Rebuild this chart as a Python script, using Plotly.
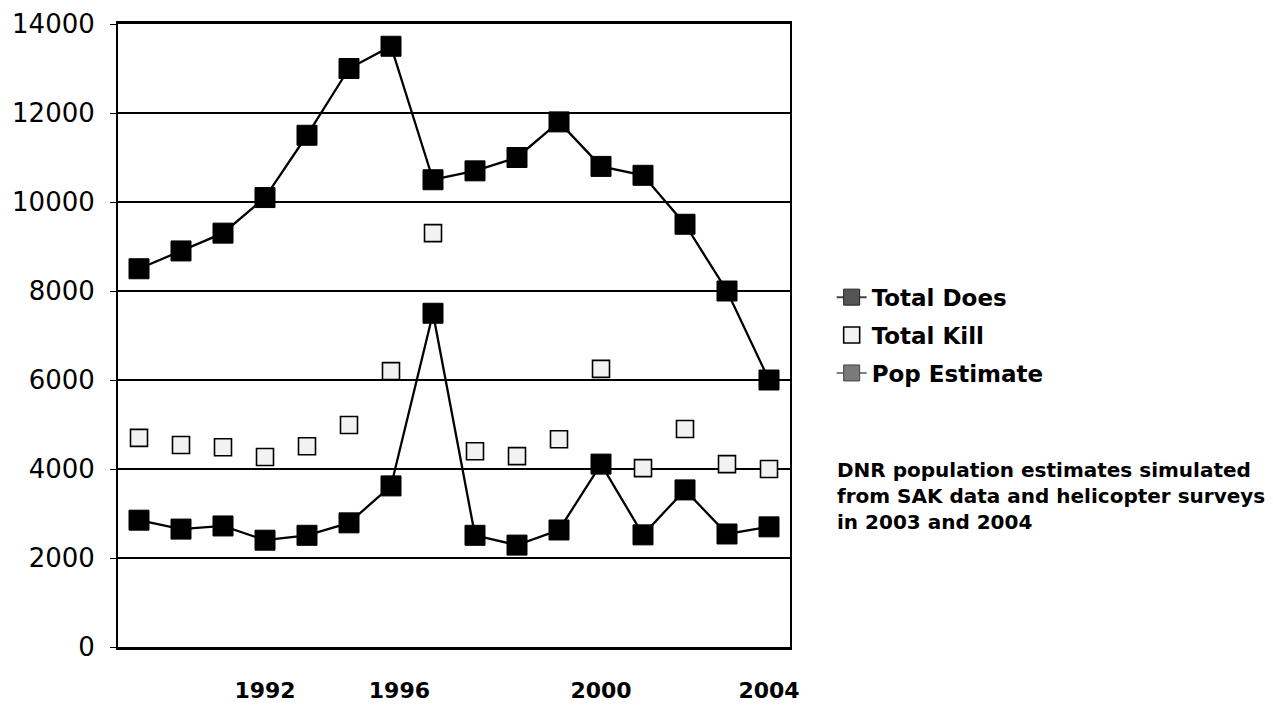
import plotly.graph_objects as go

years = list(range(1989, 2005))
pop_estimate = [8500, 8900, 9300, 10100, 11500, 13000, 13500, 10500,
                10700, 11000, 11800, 10800, 10600, 9500, 8000, 6000]
total_does = [2850, 2650, 2720, 2400, 2510, 2790, 3620, 7500,
              2510, 2290, 2630, 4110, 2520, 3530, 2540, 2700]
total_kill = [4700, 4540, 4490, 4270, 4510, 4990, 6200, 9300,
              4400, 4290, 4670, 6250, 4020, 4900, 4110, 4000]
tick_labels = ["1992", "1996", "2000", "2004"]
tick_positions = [1992, 1995.2, 2000, 2004]
y_ticks = [0, 2000, 4000, 6000, 8000, 10000, 12000, 14000]
y_tick_labels = [str(v) for v in y_ticks]
note = "DNR population estimates simulated<br>from SAK data and helicopter surveys<br>in 2003 and 2004"

fig = go.Figure()

sq = dict(symbol="square", size=20, color="black", line=dict(color="black", width=1))
fig.add_trace(go.Scatter(x=years, y=pop_estimate, mode="lines+markers",
                         line=dict(color="black", width=2.3), marker=sq,
                         showlegend=False))
fig.add_trace(go.Scatter(x=years, y=total_does, mode="lines+markers",
                         line=dict(color="black", width=2.3), marker=sq,
                         showlegend=False))
fig.add_trace(go.Scatter(x=years, y=total_kill, mode="markers",
                         marker=dict(symbol="square", size=17, color="#f2f2f2",
                                     line=dict(color="black", width=1.6)),
                         showlegend=False))

# legend entries
fig.add_trace(go.Scatter(x=[None], y=[None], mode="lines+markers", name="Total Does",
                         legendgroup="a",
                         line=dict(color="#444444", width=2),
                         marker=dict(symbol="square", size=18, color="#555555",
                                     line=dict(color="#222222", width=1))))
fig.add_trace(go.Scatter(x=[None], y=[None], mode="markers", name="Total Kill",
                         legendgroup="b",
                         marker=dict(symbol="square", size=16, color="#f2f2f2",
                                     line=dict(color="black", width=1.6))))
fig.add_trace(go.Scatter(x=[None], y=[None], mode="lines+markers", name="Pop Estimate",
                         legendgroup="c",
                         line=dict(color="#555555", width=1.5),
                         marker=dict(symbol="square", size=18, color="#7a7a7a",
                                     line=dict(color="#444444", width=1))))

fig.update_layout(
    width=1273, height=717,
    margin=dict(l=110, r=491, t=16, b=78),
    paper_bgcolor="white", plot_bgcolor="white",
    font=dict(family="DejaVu Sans", color="black"),
    legend=dict(x=1.062, y=0.596, xanchor="left", yanchor="top",
                font=dict(family="DejaVu Sans", size=23, color="black", weight="bold"),
                bgcolor="rgba(0,0,0,0)", itemwidth=30, tracegroupgap=5),
    xaxis=dict(range=[1988.5, 2004.5], tickvals=tick_positions, ticktext=tick_labels,
               showgrid=False, zeroline=False, showline=True, linecolor="black",
               linewidth=2.5, mirror=True, ticks="", automargin=False,
               ticklabeloverflow="allow",
               tickfont=dict(family="DejaVu Sans", size=22, color="black", weight="bold"),
               ticklabelstandoff=22),
    yaxis=dict(range=[0, 14000], tickvals=y_ticks, ticktext=y_tick_labels,
               showgrid=True, gridcolor="black", automargin=False,
               ticklabeloverflow="allow",
               gridwidth=1.5, zeroline=False, showline=True, linecolor="black",
               linewidth=2, mirror=True, ticks="outside", ticklen=6, tickcolor="black",
               tickfont=dict(family="DejaVu Sans", size=26, color="black"),
               ticklabelstandoff=10),
    annotations=[dict(text=note, xref="paper", yref="paper", x=1.067, y=0.307,
                      xanchor="left", yanchor="top", align="left", showarrow=False,
                      font=dict(family="DejaVu Sans", size=20, color="black", weight="bold"))],
)

fig.write_html("out.html")
